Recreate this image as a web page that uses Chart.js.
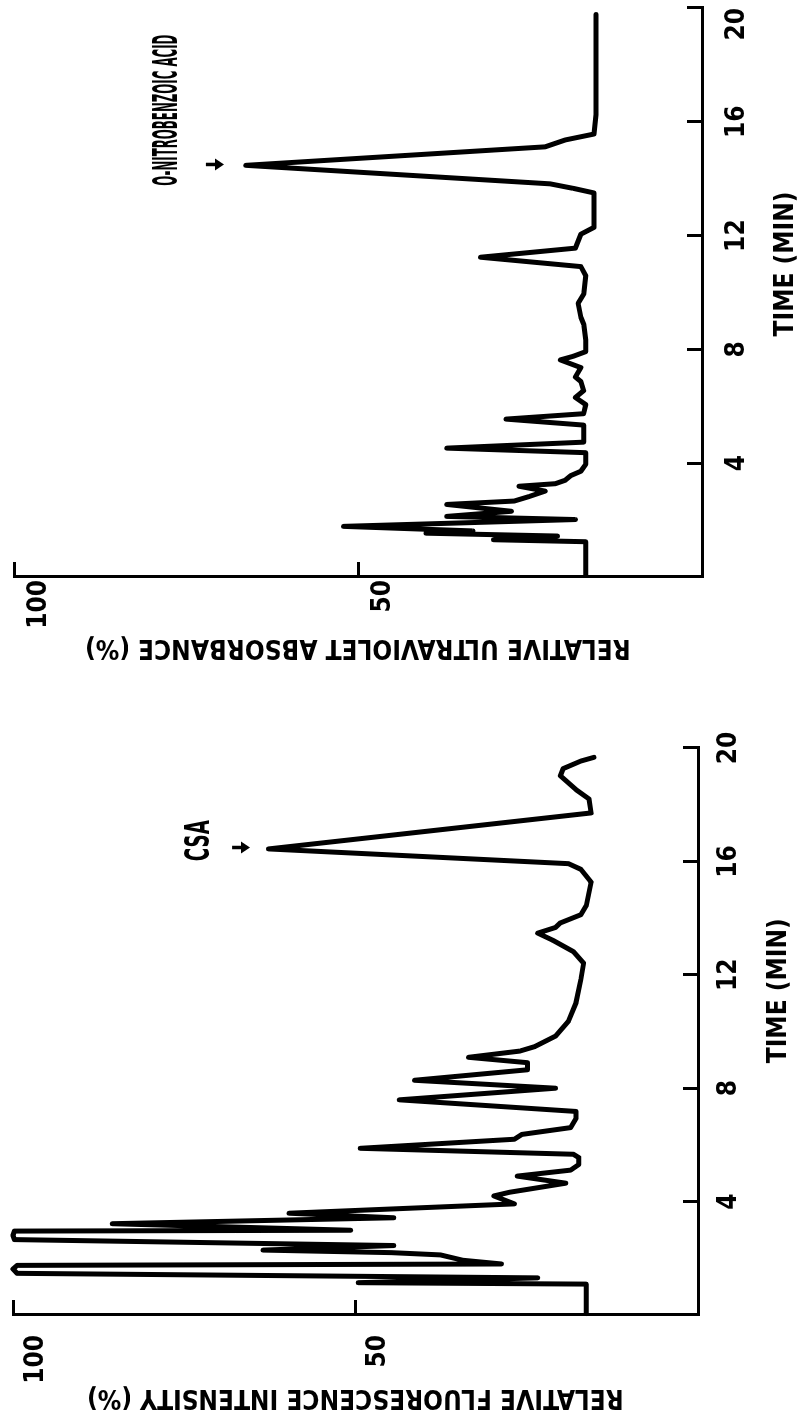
<!DOCTYPE html>
<html>
<head>
<meta charset="utf-8">
<script src="https://cdn.jsdelivr.net/npm/chart.js@4.4.1/dist/chart.umd.min.js"></script>
<style>
  html, body { margin: 0; padding: 0; background: #fff; }
  body { width: 806px; height: 1428px; overflow: hidden; position: relative; }
  /* the figure is drawn upright and turned a quarter turn, as in the scan */
  #figure { position: absolute; left: 0; top: 0; width: 1428px; height: 806px;
    transform-origin: 0 0; transform: translateY(1428px) rotate(-90deg); }
  #fluorChart { position: absolute; left: 0; top: 0; }
  #uvChart { position: absolute; left: 720px; top: 0; }
</style>
</head>
<body>
<div id="figure">
  <canvas id="fluorChart" width="720" height="806"></canvas>
  <canvas id="uvChart" width="708" height="806"></canvas>
</div>
<script>
// Fluorescence trace (time in min, relative intensity %)
var fluorTime = [0.05, 1.09, 1.14, 1.31, 1.47, 1.62, 1.75, 1.80, 1.93, 2.12, 2.20, 2.29, 2.45, 2.66, 2.81, 2.96, 2.99,
  3.22, 3.43, 3.59, 3.92, 4.20, 4.33, 4.65, 4.90, 5.11, 5.31, 5.55, 5.67, 5.88, 6.20, 6.37, 6.61, 6.94, 7.18, 7.59,
  8.00, 8.28, 8.65, 8.90, 9.09, 9.31, 9.47, 9.84, 10.37, 11.02, 11.84, 12.41, 12.82, 13.22, 13.47, 13.67, 13.83,
  14.12, 14.45, 15.27, 15.72, 15.92, 16.44, 17.71, 18.20, 18.53, 19.02, 19.27, 19.54, 19.67];
var fluorValue = [16.3, 16.3, 49.6, 23.4, 99.4, 100, 99.4, 28.7, 34.3, 37.6, 44.8, 63.5, 44.4, 99.8, 100, 99.8, 50.7,
  85.5, 44.4, 59.7, 26.8, 29.8, 27.5, 19.3, 26.4, 18.6, 17.4, 17.4, 18.2, 49.3, 26.8, 25.7, 18.6, 17.8, 17.8, 43.6,
  20.8, 41.4, 24.9, 24.9, 33.5, 26.0, 23.8, 20.8, 18.9, 17.8, 17.1, 16.7, 18.2, 21.2, 23.4, 20.8, 20.1,
  17.1, 16.3, 15.6, 17.1, 18.9, 62.7, 15.6, 15.9, 17.8, 20.1, 19.7, 17.1, 15.2];

// Ultraviolet trace (time in min, relative absorbance %)
var uvTime = [0.05, 1.24, 1.31, 1.44, 1.54, 1.62, 1.78, 2.02, 2.13, 2.31, 2.55, 2.67, 2.83, 3.02, 3.19, 3.28, 3.40,
  3.56, 3.72, 3.96, 4.37, 4.53, 4.74, 5.34, 5.55, 5.74, 6.06, 6.31, 6.55, 6.87, 7.03, 7.36, 7.63, 7.76, 7.92, 8.33,
  8.89, 9.13, 9.62, 9.94, 10.59, 10.91, 11.24, 11.56, 12.05, 12.29, 13.50, 13.66, 13.82, 14.47, 15.12, 15.36,
  15.57, 16.25, 19.77];
var uvValue = [16.9, 16.9, 30.3, 21.0, 40.1, 33.3, 52.1, 18.4, 37.1, 27.7, 37.1, 27.3, 25.1, 22.8, 26.6, 21.3, 19.9,
  19.1, 17.6, 16.9, 16.9, 37.1, 17.2, 17.2, 28.5, 17.2, 16.9, 18.4, 17.2, 17.6, 18.4, 17.6, 20.6, 18.7, 16.9, 16.9,
  17.2, 17.6, 18.0, 17.2, 16.9, 17.6, 32.2, 18.4, 17.6, 15.7, 15.7, 18.7, 22.1, 66.3, 22.8, 19.9,
  15.7, 15.4, 15.4];

// Peak labels and their arrows
var fluorPeakText = ["CSA"];
var fluorPeakTime = [16.73];
var fluorPeakValue = [72.7];
var fluorArrowTime = [16.49];
var fluorArrowValue = [66.7];

var uvPeakText = ["O-NITROBENZOIC ACID"];
var uvPeakTime = [16.41];
var uvPeakValue = [77.5];
var uvArrowTime = [14.50];
var uvArrowValue = [70.8];

var FONT = "'Liberation Sans Narrow', 'DejaVu Sans Condensed', 'DejaVu Sans', sans-serif";
var tickFont = { family: FONT, size: 26, weight: "bold" };
var titleFont = { family: FONT, size: 26, weight: "bold" };

// draws the peak names and small arrows, squeezed like the hand lettering
var peakLabels = {
  id: "peakLabels",
  afterDatasetsDraw: function (chart, args, opts) {
    var ctx = chart.ctx;
    var x = chart.scales.x;
    var y = chart.scales.y;
    ctx.save();
    ctx.fillStyle = "#000";
    ctx.strokeStyle = "#000";
    ctx.font = "bold 33px " + FONT;
    ctx.textAlign = "center";
    ctx.textBaseline = "middle";
    opts.text.forEach(function (txt, i) {
      var px = x.getPixelForValue(opts.time[i]);
      var py = y.getPixelForValue(opts.value[i]);
      var squeeze = opts.width[i] / ctx.measureText(txt).width;
      ctx.save();
      ctx.translate(px, py);
      ctx.scale(squeeze, 1);
      ctx.fillText(txt, 0, 0);
      ctx.restore();

      var ax = x.getPixelForValue(opts.arrowTime[i]);
      var ay = y.getPixelForValue(opts.arrowValue[i]);
      ctx.lineWidth = 3.5;
      ctx.beginPath();
      ctx.moveTo(ax, ay - 9);
      ctx.lineTo(ax, ay + 4);
      ctx.stroke();
      ctx.beginPath();
      ctx.moveTo(ax - 6, ay);
      ctx.lineTo(ax + 6, ay);
      ctx.lineTo(ax, ay + 9);
      ctx.closePath();
      ctx.fill();
    });
    ctx.restore();
  }
};

function fixBox(width, height) {
  return function (scale) {
    if (width) scale.width = width;
    if (height) scale.height = height;
    scale.paddingLeft = 0;
    scale.paddingRight = 0;
    scale.paddingTop = 0;
    scale.paddingBottom = 0;
  };
}

function buildChart(id, times, values, box, xTitle, yTitle, labels) {
  var points = times.map(function (t, i) {
    return { x: t, y: values[i] };
  });
  return new Chart(document.getElementById(id), {
    type: "line",
    data: {
      datasets: [{
        data: points,
        borderColor: "#000",
        borderWidth: 5,
        pointRadius: 0,
        tension: 0,
        fill: false,
        clip: false,
        borderJoinStyle: "round",
        borderCapStyle: "round"
      }]
    },
    options: {
      responsive: false,
      animation: false,
      devicePixelRatio: 1,
      layout: { padding: { top: box.top, right: box.right, left: 0, bottom: 0 } },
      plugins: {
        legend: { display: false },
        tooltip: { enabled: false },
        peakLabels: labels
      },
      scales: {
        x: {
          type: "linear",
          min: 0,
          max: 20,
          afterFit: fixBox(0, box.xHeight),
          ticks: {
            stepSize: 4,
            autoSkip: false,
            maxRotation: 0,
            padding: box.xTickPad,
            align: box.xAlign,
            color: "#000",
            font: tickFont,
            callback: function (v) { return v === 0 ? "" : v; }
          },
          grid: { drawOnChartArea: false, tickLength: -15, tickWidth: 3, color: "#000" },
          border: { color: "#000", width: 3 },
          title: { display: true, text: xTitle, color: "#000", font: titleFont, padding: { top: 0, bottom: box.xTitlePad } }
        },
        y: {
          min: 0,
          max: 100,
          afterFit: fixBox(box.yWidth, 0),
          ticks: {
            stepSize: 50,
            padding: box.yTickPad,
            labelOffset: box.yLabelOffset,
            color: "#000",
            font: tickFont,
            callback: function (v) { return v === 0 ? "" : v; }
          },
          grid: { drawOnChartArea: false, tickLength: -15, tickWidth: 3, color: "#000" },
          border: { color: "#000", width: 3 },
          title: { display: true, text: yTitle, color: "#000", font: titleFont, padding: { top: box.yTitlePad, bottom: 0 } }
        }
      }
    },
    plugins: [peakLabels]
  });
}

buildChart("fluorChart", fluorTime, fluorValue,
  { top: 13, right: 40, yWidth: 113, xHeight: 108, xTickPad: 31, xAlign: "center",
    yTickPad: 35, yLabelOffset: 23, yTitlePad: 16, xTitlePad: 11 },
  "          TIME (MIN)", "RELATIVE FLUORESCENCE INTENSITY (%)",
  { text: fluorPeakText, time: fluorPeakTime, value: fluorPeakValue, width: [41],
    arrowTime: fluorArrowTime, arrowValue: fluorArrowValue });

buildChart("uvChart", uvTime, uvValue,
  { top: 14, right: 8, yWidth: 131, xHeight: 104, xTickPad: 35, xAlign: "inner",
    yTickPad: 18, yLabelOffset: 25, yTitlePad: 46, xTitlePad: 4 },
  "       TIME (MIN)", "RELATIVE ULTRAVIOLET ABSORBANCE (%)",
  { text: uvPeakText, time: uvPeakTime, value: uvPeakValue, width: [151],
    arrowTime: uvArrowTime, arrowValue: uvArrowValue });
</script>
</body>
</html>
